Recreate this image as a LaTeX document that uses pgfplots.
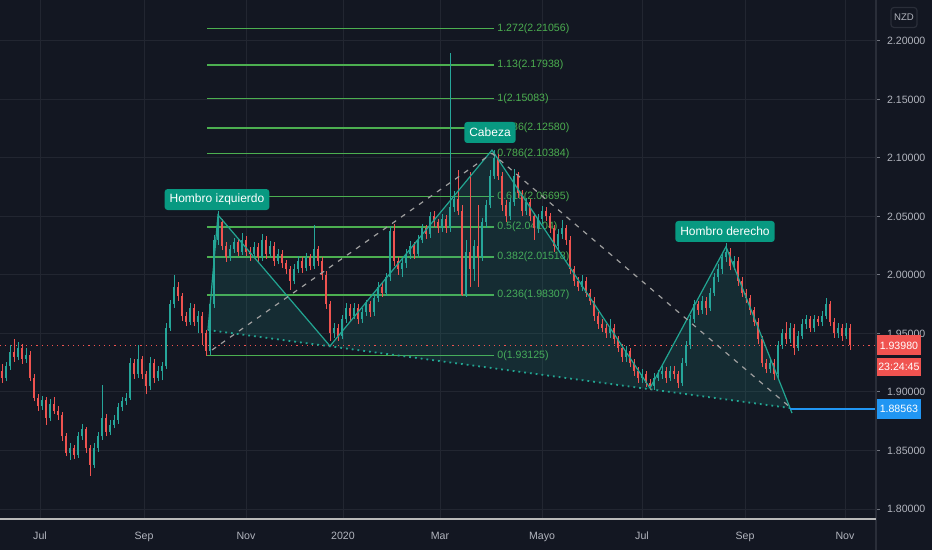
\documentclass[border=0pt]{standalone}
\usepackage{pgfplots}
\pgfplotsset{compat=1.18}
\usepackage{pgfplotstable}
\usepackage{fontspec}
\setmainfont{Liberation Sans}
\definecolor{bgc}{HTML}{131722}
\definecolor{gridc}{HTML}{222631}
\definecolor{labc}{HTML}{B2B5BE}
\definecolor{upc}{HTML}{26A69A}
\definecolor{dnc}{HTML}{EF5350}
\definecolor{fibc}{HTML}{4CAF50}
\definecolor{tline}{HTML}{22A592}
\definecolor{tbox}{HTML}{089981}
\definecolor{bluec}{HTML}{2196F3}
\definecolor{redbox}{HTML}{F05350}
\definecolor{sepc}{HTML}{2A2E39}
\newcommand\tf{\fontsize{5.3pt}{6pt}\selectfont}
\newcommand\lf{\fontsize{6pt}{7pt}\selectfont}
\pgfplotsset{candle/.style={only marks, mark size=0pt, mark options={draw=none, fill=none}, forget plot}}

\pgfplotstableread{
x o h l c
6 1.912 1.926 1.909 1.922
10 1.922 1.940 1.919 1.934
18 1.930 1.943 1.927 1.938
26 1.928 1.938 1.925 1.932
42 1.888 1.897 1.885 1.893
50 1.878 1.894 1.875 1.890
70 1.848 1.856 1.842 1.852
78 1.846 1.866 1.844 1.862
82 1.862 1.873 1.859 1.868
94 1.838 1.856 1.835 1.852
98 1.852 1.866 1.849 1.862
102 1.862 1.906 1.859 1.878
110 1.866 1.876 1.863 1.872
114 1.872 1.880 1.869 1.876
118 1.876 1.891 1.873 1.887
122 1.887 1.896 1.884 1.892
126 1.892 1.899 1.889 1.895
130 1.895 1.929 1.893 1.925
138 1.915 1.940 1.912 1.928
150 1.905 1.930 1.902 1.925
158 1.912 1.922 1.909 1.918
162 1.918 1.926 1.910 1.922
166 1.922 1.959 1.920 1.955
170 1.955 1.979 1.952 1.975
174 1.975 2.000 1.972 1.990
190 1.960 1.976 1.957 1.972
198 1.960 1.969 1.950 1.965
210 1.935 1.979 1.932 1.975
214 1.975 2.034 1.972 2.030
218 2.030 2.055 2.026 2.045
230 2.015 2.026 2.012 2.022
234 2.022 2.032 2.019 2.028
242 2.020 2.036 2.017 2.030
254 2.018 2.028 2.015 2.024
262 2.015 2.035 2.012 2.030
270 2.018 2.029 2.015 2.025
278 2.012 2.022 2.009 2.018
294 1.995 2.009 1.992 2.005
298 2.005 2.016 2.002 2.012
306 2.006 2.019 2.003 2.015
314 2.008 2.043 2.005 2.022
334 1.950 1.959 1.946 1.955
342 1.948 1.966 1.945 1.962
346 1.962 1.976 1.959 1.972
354 1.965 1.976 1.962 1.972
362 1.962 1.972 1.959 1.968
366 1.968 1.979 1.965 1.975
374 1.968 1.984 1.965 1.980
378 1.980 1.994 1.977 1.990
386 1.985 2.002 1.982 1.998
390 1.998 2.042 1.995 2.038
402 2.005 2.014 1.998 2.010
406 2.010 2.022 2.006 2.018
410 2.018 2.029 2.014 2.025
418 2.018 2.034 2.015 2.030
422 2.030 2.044 2.027 2.040
430 2.035 2.054 2.032 2.050
442 2.040 2.052 2.037 2.048
450 2.040 2.190 2.037 2.058
454 2.058 2.072 2.054 2.065
466 1.983 2.030 1.981 2.020
474 2.005 2.030 1.995 2.025
482 2.015 2.049 2.012 2.045
486 2.045 2.064 2.040 2.060
490 2.060 2.090 2.057 2.085
494 2.085 2.107 2.082 2.100
510 2.050 2.066 2.047 2.062
514 2.062 2.091 2.059 2.085
526 2.055 2.066 2.051 2.062
538 2.040 2.052 2.036 2.048
542 2.048 2.059 2.044 2.055
558 2.025 2.039 2.021 2.035
562 2.035 2.047 2.031 2.040
582 1.990 2.000 1.986 1.995
610 1.950 1.962 1.946 1.955
626 1.930 1.939 1.926 1.935
642 1.912 1.920 1.908 1.915
654 1.905 1.916 1.902 1.912
658 1.912 1.919 1.909 1.915
662 1.915 1.922 1.911 1.918
670 1.912 1.922 1.909 1.918
682 1.908 1.929 1.905 1.925
686 1.925 1.944 1.922 1.940
690 1.940 1.966 1.937 1.962
694 1.962 1.979 1.959 1.975
702 1.970 1.982 1.967 1.978
710 1.972 1.989 1.969 1.985
714 1.985 2.002 1.982 1.998
718 1.998 2.009 1.994 2.005
722 2.005 2.019 2.001 2.015
726 2.015 2.027 2.011 2.020
734 2.008 2.016 2.004 2.012
770 1.920 1.929 1.916 1.925
778 1.915 1.944 1.912 1.940
782 1.940 1.954 1.937 1.950
790 1.945 1.959 1.942 1.955
798 1.938 1.952 1.935 1.948
802 1.948 1.962 1.945 1.958
806 1.958 1.966 1.954 1.962
814 1.955 1.966 1.951 1.962
822 1.960 1.969 1.956 1.965
826 1.965 1.980 1.962 1.975
838 1.950 1.959 1.946 1.955
846 1.948 1.959 1.945 1.955
}\up

\pgfplotstableread{
x o h l c
2 1.918 1.924 1.908 1.912
14 1.934 1.945 1.926 1.930
22 1.938 1.941 1.924 1.928
30 1.932 1.935 1.909 1.912
34 1.912 1.915 1.892 1.895
38 1.895 1.898 1.884 1.888
46 1.893 1.896 1.872 1.878
54 1.890 1.896 1.881 1.884
58 1.884 1.888 1.876 1.880
62 1.880 1.883 1.858 1.862
66 1.862 1.865 1.845 1.848
74 1.852 1.855 1.843 1.846
86 1.868 1.870 1.848 1.852
90 1.852 1.855 1.828 1.838
106 1.878 1.881 1.862 1.866
134 1.925 1.928 1.911 1.915
142 1.928 1.931 1.911 1.915
146 1.915 1.918 1.898 1.905
154 1.925 1.928 1.908 1.912
178 1.990 1.994 1.978 1.982
182 1.982 1.985 1.961 1.965
186 1.965 1.968 1.956 1.960
194 1.972 1.975 1.956 1.960
202 1.965 1.968 1.940 1.950
206 1.950 1.953 1.931 1.935
222 2.045 2.048 2.021 2.025
226 2.025 2.028 2.011 2.015
238 2.028 2.031 2.016 2.020
246 2.030 2.033 2.016 2.020
250 2.020 2.024 2.012 2.018
258 2.024 2.027 2.011 2.015
266 2.030 2.033 2.014 2.018
274 2.025 2.028 2.008 2.012
282 2.018 2.021 2.006 2.010
286 2.010 2.013 2.001 2.005
290 2.005 2.008 1.987 1.995
302 2.012 2.015 2.002 2.006
310 2.015 2.018 2.004 2.008
318 2.022 2.025 2.008 2.012
322 2.012 2.015 1.996 2.000
326 2.000 2.003 1.971 1.975
330 1.975 1.978 1.944 1.950
338 1.955 1.958 1.944 1.948
350 1.972 1.975 1.961 1.965
358 1.972 1.975 1.958 1.962
370 1.975 1.978 1.964 1.968
382 1.990 1.993 1.981 1.985
394 2.038 2.044 2.008 2.012
398 2.012 2.015 2.000 2.005
414 2.025 2.028 2.014 2.018
426 2.040 2.043 2.031 2.035
434 2.050 2.055 2.041 2.045
438 2.045 2.048 2.036 2.040
446 2.048 2.051 2.036 2.040
458 2.065 2.090 2.051 2.055
462 2.055 2.060 1.982 1.983
470 2.020 2.088 1.990 2.005
478 2.025 2.060 1.990 2.015
498 2.100 2.103 2.081 2.085
502 2.085 2.088 2.055 2.060
506 2.060 2.064 2.045 2.050
518 2.085 2.088 2.066 2.070
522 2.070 2.073 2.050 2.055
530 2.062 2.065 2.046 2.050
534 2.050 2.053 2.030 2.040
546 2.055 2.058 2.046 2.050
550 2.050 2.053 2.036 2.040
554 2.040 2.043 2.020 2.025
566 2.040 2.043 2.026 2.030
570 2.030 2.033 2.001 2.005
574 2.005 2.008 1.991 1.995
578 1.995 1.998 1.986 1.990
586 1.995 1.998 1.981 1.985
590 1.985 1.988 1.974 1.978
594 1.978 1.981 1.961 1.965
598 1.965 1.968 1.954 1.958
602 1.958 1.962 1.951 1.955
606 1.955 1.958 1.946 1.950
614 1.955 1.958 1.941 1.945
618 1.945 1.948 1.934 1.938
622 1.938 1.941 1.926 1.930
630 1.935 1.938 1.921 1.925
634 1.925 1.928 1.914 1.918
638 1.918 1.921 1.908 1.912
646 1.915 1.918 1.904 1.908
650 1.908 1.911 1.902 1.905
666 1.918 1.921 1.908 1.912
674 1.918 1.922 1.911 1.915
678 1.915 1.918 1.903 1.908
698 1.975 1.978 1.966 1.970
706 1.978 1.981 1.966 1.972
730 2.020 2.023 2.004 2.008
738 2.012 2.015 1.991 1.995
742 1.995 1.998 1.981 1.985
746 1.985 1.988 1.976 1.980
750 1.980 1.983 1.966 1.970
754 1.970 1.973 1.956 1.960
758 1.960 1.963 1.941 1.945
762 1.945 1.948 1.921 1.925
766 1.925 1.928 1.916 1.920
774 1.925 1.928 1.910 1.915
786 1.950 1.960 1.941 1.945
794 1.955 1.958 1.932 1.938
810 1.962 1.965 1.951 1.955
818 1.962 1.965 1.956 1.960
830 1.975 1.978 1.956 1.960
834 1.960 1.963 1.946 1.950
842 1.955 1.958 1.944 1.948
850 1.955 1.958 1.936 1.940
}\dn

\begin{document}
\begin{tikzpicture}
\fill[bgc] (0,0) rectangle (466pt,-275pt);
\path[use as bounding box] (0,0) rectangle (466pt,-275pt);
\begin{axis}[
  at={(0,0)}, anchor=north west,
  scale only axis, width=438pt, height=259.5pt,
  xmin=0, xmax=876, ymin=1.79145, ymax=2.23504,
  axis line style={draw=none},
  clip=false,
  /pgf/number format/assume math mode=true,
  scaled y ticks=false,
  xtick={40,144,246,343,440,542,642,745,845},
  xticklabels={Jul,Sep,Nov,2020,Mar,Mayo,Jul,Sep,Nov},
  ytick={1.80,1.85,1.90,1.95,2.00,2.05,2.10,2.15,2.20},
  yticklabel pos=right,
  yticklabel style={/pgf/number format/fixed, /pgf/number format/fixed zerofill, /pgf/number format/precision=5, font=\tf, text=labc, anchor=west},
  xticklabel style={font=\tf, text=labc, anchor=base, yshift=-8pt},
  xmajorgrids, ymajorgrids, grid style={gridc, line width=0.5pt},
  tick align=outside, major tick length=2pt,
  xtick style={draw=none}, ytick style={draw=labc!60!bgc, line width=0.5pt},
]
% fib levels
\addplot[fibc, line width=0.8pt] coordinates {(207,1.93125) (494,1.93125)};
\addplot[fibc, line width=0.8pt] coordinates {(207,1.98307) (494,1.98307)};
\addplot[fibc, line width=0.8pt] coordinates {(207,2.01518) (494,2.01518)};
\addplot[fibc, line width=0.8pt] coordinates {(207,2.04104) (494,2.04104)};
\addplot[fibc, line width=0.8pt] coordinates {(207,2.06695) (494,2.06695)};
\addplot[fibc, line width=0.8pt] coordinates {(207,2.10384) (494,2.10384)};
\addplot[fibc, line width=0.8pt] coordinates {(207,2.12580) (494,2.12580)};
\addplot[fibc, line width=0.8pt] coordinates {(207,2.15083) (494,2.15083)};
\addplot[fibc, line width=0.8pt] coordinates {(207,2.17938) (494,2.17938)};
\addplot[fibc, line width=0.8pt] coordinates {(207,2.21056) (494,2.21056)};
\begin{scope}[every node/.style={anchor=west, font=\tf, text=fibc, inner sep=0.5pt}]
\node at (axis cs:496,1.93125) {0(1.93125)};
\node at (axis cs:496,1.98307) {0.236(1.98307)};
\node at (axis cs:496,2.01518) {0.382(2.01518)};
\node at (axis cs:496,2.04104) {0.5(2.04104)};
\node at (axis cs:496,2.06695) {0.618(2.06695)};
\node at (axis cs:496,2.10384) {0.786(2.10384)};
\node at (axis cs:496,2.12580) {0.886(2.12580)};
\node at (axis cs:496,2.15083) {1(2.15083)};
\node at (axis cs:496,2.17938) {1.13(2.17938)};
\node at (axis cs:496,2.21056) {1.272(2.21056)};
\end{scope}
% pattern fill
\addplot[fill=upc, fill opacity=0.15, draw=none] coordinates {(208,1.9530) (218,2.0513) (330,1.9393) (492,2.1068) (650,1.9034) (726,2.0242) (790,1.8863)} -- cycle;
% current price line
\addplot[dnc, dotted, line width=0.6pt] coordinates {(0,1.9398) (876,1.9398)};
% candles: wicks
\addplot[candle, error bars/.cd, y dir=plus, y explicit, error mark=none,
  error bar style={line width=0.5pt, upc}] table[x=x, y=l, y error plus expr=\thisrow{h}-\thisrow{l}] {\up};
\addplot[candle, error bars/.cd, y dir=plus, y explicit, error mark=none,
  error bar style={line width=0.5pt, dnc}] table[x=x, y=l, y error plus expr=\thisrow{h}-\thisrow{l}] {\dn};
% candles: bodies
\addplot[candle, error bars/.cd, y dir=plus, y explicit, error mark=none,
  error bar style={line width=1.4pt, upc}] table[x=x, y=o, y error plus expr=\thisrow{c}-\thisrow{o}] {\up};
\addplot[candle, error bars/.cd, y dir=plus, y explicit, error mark=none,
  error bar style={line width=1.4pt, dnc}] table[x=x, y=c, y error plus expr=\thisrow{o}-\thisrow{c}] {\dn};
% pattern lines
\addplot[tline, line width=0.6pt] coordinates {(208,1.9530) (218,2.0513) (330,1.9393) (492,2.1068) (650,1.9034) (726,2.0242) (792,1.8820)};
\addplot[tline, line width=0.9pt, dotted] coordinates {(208,1.9530) (790,1.8863)};
\addplot[gray!75, line width=0.6pt, dash pattern=on 2.5pt off 3pt] coordinates {(212,1.9359) (492,2.1040) (790,1.8870)};
% last price markers
\addplot[bluec, line width=1.3pt] coordinates {(790,1.88563) (876,1.88563)};
\node[fill=tbox, text=white, rounded corners=1.5pt, font=\lf, inner xsep=2.5pt, inner ysep=0pt, minimum height=10.5pt] at (axis cs:217,2.0645) {Hombro izquierdo};
\node[fill=tbox, text=white, rounded corners=1.5pt, font=\lf, inner xsep=2.5pt, inner ysep=0pt, minimum height=10.5pt] at (axis cs:490,2.1218) {Cabeza};
\node[fill=tbox, text=white, rounded corners=1.5pt, font=\lf, inner xsep=2.5pt, inner ysep=0pt, minimum height=10.5pt] at (axis cs:725,2.0372) {Hombro derecho};
\node[fill=redbox, text=white, font=\tf, anchor=west, inner sep=0pt, minimum width=22.5pt, minimum height=10pt] at (axis cs:876,1.9398) {1.93980};
\node[fill=redbox, text=white, font=\tf, anchor=west, inner sep=0pt, minimum width=22.5pt, minimum height=9pt] at (axis cs:876,1.92137) {23:24:45};
\node[fill=bluec, text=white, font=\tf, anchor=west, inner sep=0pt, minimum width=22.5pt, minimum height=10pt] at (axis cs:876,1.88563) {1.88563};
\node[draw=sepc, line width=0.6pt, text=labc, rounded corners=1.5pt, font=\fontsize{4.8pt}{5.5pt}\selectfont, inner sep=0pt, minimum width=13pt, minimum height=10pt] at (axis cs:904,2.2201) {NZD};
\end{axis}
\draw[sepc, line width=0.6pt] (438pt,0) -- (438pt,-275pt);
\draw[gray!55, line width=0.7pt] (0,-259.5pt) -- (438pt,-259.5pt);
\end{tikzpicture}
\end{document}
